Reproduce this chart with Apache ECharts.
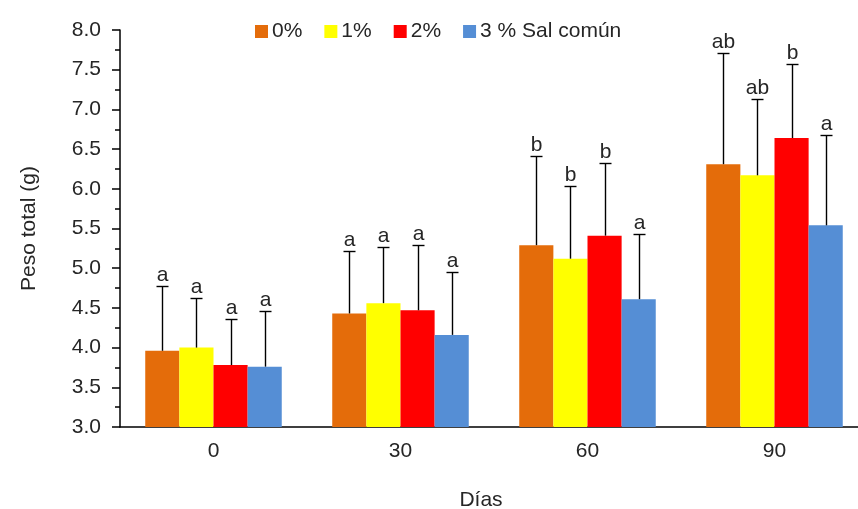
<!DOCTYPE html>
<html>
<head>
<meta charset="utf-8">
<script src="https://cdn.jsdelivr.net/npm/echarts@6/dist/echarts.min.js"></script>
<style>
  html, body { margin: 0; background: #fff; }
  #main { width: 858px; height: 509px; }
</style>
</head>
<body>
<div id="main"></div>
<script>
// datos
var dias = ['0', '30', '60', '90'];
var nombres = ['0%', '1%', '2%', '3 % Sal común'];
var colores = ['#E46C0A', '#FFFF00', '#FF0000', '#558ED5'];

var peso0 = [3.96, 4.43, 5.29, 6.31];
var peso1 = [4.00, 4.56, 5.12, 6.17];
var peso2 = [3.78, 4.47, 5.41, 6.64];
var peso3 = [3.76, 4.16, 4.61, 5.54];

// extremo superior de las barras de error
var sup0 = [4.78, 5.22, 6.41, 7.71];
var sup1 = [4.62, 5.27, 6.03, 7.13];
var sup2 = [4.36, 5.29, 6.32, 7.57];
var sup3 = [4.46, 4.95, 5.43, 6.68];

// letras de significancia
var letras0 = ['a', 'a', 'b', 'ab'];
var letras1 = ['a', 'a', 'b', 'ab'];
var letras2 = ['a', 'a', 'b', 'b'];
var letras3 = ['a', 'a', 'a', 'a'];

var pesos = [peso0, peso1, peso2, peso3];
var sups = [sup0, sup1, sup2, sup3];
var letras = [letras0, letras1, letras2, letras3];

var fuente = 'Liberation Sans, Arial, sans-serif';
var colorTexto = '#262626';
var tam = 21;
var gapCat = 0.27;

function errorRender(idx) {
  return function (params, api) {
    var cat = api.value(0);
    var base = api.coord([cat, api.value(1)]);
    var top = api.coord([cat, api.value(2)]);
    var bw = api.size([1, 0])[0] * (1 - gapCat) / 4;
    var x = Math.round(base[0] + (idx - 1.5) * bw) + 0.5;
    var ty = Math.round(top[1]) + 0.5;
    var st = { stroke: '#000', lineWidth: 1.4 };
    return {
      type: 'group',
      children: [
        { type: 'line', shape: { x1: x, y1: base[1], x2: x, y2: ty }, style: st },
        { type: 'line', shape: { x1: x - 6, y1: ty, x2: x + 6, y2: ty }, style: st },
        { type: 'text', x: x, y: ty - 1, style: {
            text: api.value(3), fill: colorTexto, font: tam + 'px ' + fuente,
            align: 'center', verticalAlign: 'bottom' } }
      ]
    };
  };
}

var series = [];
for (var i = 0; i < 4; i++) {
  series.push({
    name: nombres[i],
    type: 'bar',
    data: pesos[i],
    barGap: '0%',
    barCategoryGap: (gapCat * 100) + '%',
    itemStyle: { color: colores[i] }
  });
}
for (var j = 0; j < 4; j++) {
  var d = [];
  for (var k = 0; k < dias.length; k++) {
    d.push([k, pesos[j][k], sups[j][k], letras[j][k]]);
  }
  series.push({
    type: 'custom',
    renderItem: errorRender(j),
    data: d,
    encode: { x: 0, y: [1, 2] },
    z: 10,
    silent: true
  });
}

var option = {
  animation: false,
  textStyle: { fontFamily: fuente, color: colorTexto },
  legend: {
    data: nombres,
    left: 250,
    top: 16,
    icon: 'rect',
    itemWidth: 13,
    itemHeight: 13,
    itemGap: 22,
    textStyle: { fontSize: tam, color: colorTexto, fontFamily: fuente, padding: [0, 0, 0, -1] }
  },
  grid: { left: 120, width: 748, top: 30, height: 397, outerBoundsMode: 'none', containLabel: false },
  xAxis: {
    type: 'category',
    data: dias,
    name: 'Días',
    nameLocation: 'middle',
    nameGap: 63,
    nameTextStyle: { fontSize: tam, color: colorTexto, padding: [0, 26, 0, 0] },
    axisLine: { lineStyle: { color: '#000', width: 1.5 } },
    axisTick: { length: 6, lineStyle: { color: '#000', width: 1.5 } },
    axisLabel: { fontSize: tam, color: colorTexto, margin: 14 }
  },
  yAxis: {
    type: 'value',
    min: 3,
    max: 8,
    interval: 0.5,
    name: 'Peso total (g)',
    nameLocation: 'middle',
    nameGap: 80,
    nameTextStyle: { fontSize: tam, color: colorTexto },
    axisLine: { show: true, lineStyle: { color: '#000', width: 1.5 } },
    axisTick: { show: true, length: 8, lineStyle: { color: '#000', width: 1.5 } },
    minorTick: { show: true, splitNumber: 2, length: 5, lineStyle: { color: '#000', width: 1.5 } },
    splitLine: { show: false },
    axisLabel: {
      fontSize: tam, color: colorTexto, margin: 19,
      formatter: function (v) { return v.toFixed(1); }
    }
  },
  series: series
};

echarts.init(document.getElementById('main')).setOption(option);
</script>
</body>
</html>
